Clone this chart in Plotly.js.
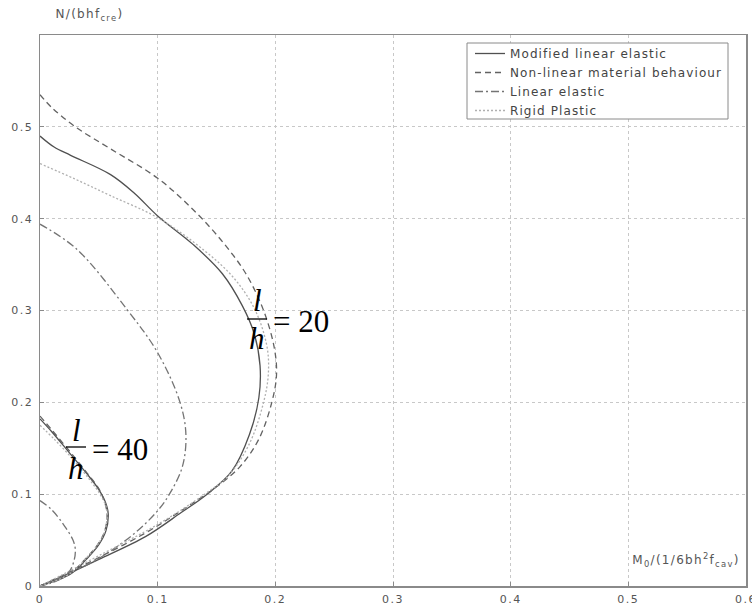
<!DOCTYPE html>
<html>
<head>
<meta charset="utf-8">
<script src="https://cdn.plot.ly/plotly-3.0.1.min.js"></script>
<style>
html,body{margin:0;padding:0;background:#fff;}
#chart{width:752px;height:611px;}
.legendtext{letter-spacing:1.1px;}
#chart .xtick text, #chart .ytick text{letter-spacing:1.5px;}
#chart .annotation[data-index="0"] text, #chart .annotation[data-index="1"] text{letter-spacing:1.3px;}
</style>
</head>
<body>
<div id="chart"></div>
<script>
// ---- Data (M0 normalised moment, N normalised axial force) ----
const seriesNames = ["Modified linear elastic", "Non-linear material behaviour", "Linear elastic", "Rigid Plastic"];

// l/h = 20
const mod20_M = [0, 0.012, 0.026, 0.06, 0.08, 0.1, 0.13, 0.155, 0.172, 0.182, 0.187, 0.186, 0.178, 0.163, 0.142, 0.12, 0.09, 0.05, 0.02, 0];
const mod20_N = [0.49, 0.478, 0.469, 0.448, 0.428, 0.403, 0.372, 0.34, 0.305, 0.275, 0.24, 0.205, 0.165, 0.125, 0.1, 0.08, 0.054, 0.029, 0.011, 0];
const nl20_M = [0, 0.01, 0.03, 0.06, 0.1, 0.13, 0.155, 0.175, 0.19, 0.199, 0.201, 0.197, 0.186, 0.17, 0.15, 0.12, 0.09, 0.05, 0.02, 0];
const nl20_N = [0.535, 0.521, 0.5, 0.476, 0.444, 0.41, 0.375, 0.34, 0.3, 0.26, 0.23, 0.2, 0.16, 0.13, 0.108, 0.082, 0.058, 0.031, 0.012, 0];
const le20_M = [0, 0.031, 0.074, 0.1, 0.119, 0.124, 0.121, 0.11, 0.1, 0.08, 0.05, 0.02, 0];
const le20_N = [0.394, 0.367, 0.301, 0.254, 0.2, 0.165, 0.13, 0.1, 0.082, 0.057, 0.03, 0.011, 0];
const rp20_M = [0, 0.03, 0.06, 0.1, 0.14, 0.165, 0.183, 0.193, 0.194, 0.19, 0.178, 0.16, 0.14, 0.1, 0.05, 0.02, 0];
const rp20_N = [0.46, 0.443, 0.425, 0.401, 0.365, 0.335, 0.3, 0.26, 0.23, 0.2, 0.155, 0.12, 0.1, 0.067, 0.033, 0.013, 0];

// l/h = 40
const mod40_M = [0, 0.01, 0.025, 0.04, 0.05, 0.056, 0.058, 0.056, 0.05, 0.04, 0.027, 0.012, 0];
const mod40_N = [0.182, 0.168, 0.145, 0.122, 0.105, 0.09, 0.078, 0.06, 0.045, 0.03, 0.014, 0.005, 0];
const nl40_M = [0, 0.01, 0.025, 0.04, 0.05, 0.055, 0.057, 0.055, 0.049, 0.039, 0.026, 0.012, 0];
const nl40_N = [0.185, 0.17, 0.147, 0.123, 0.106, 0.091, 0.078, 0.06, 0.045, 0.03, 0.014, 0.005, 0];
const le40_M = [0, 0.01, 0.021, 0.028, 0.03, 0.029, 0.025, 0.015, 0];
const le40_N = [0.093, 0.083, 0.065, 0.05, 0.04, 0.028, 0.016, 0.006, 0];
const rp40_M = [0, 0.012, 0.028, 0.042, 0.051, 0.056, 0.057, 0.055, 0.049, 0.039, 0.026, 0.012, 0];
const rp40_N = [0.175, 0.16, 0.138, 0.116, 0.1, 0.087, 0.076, 0.06, 0.045, 0.03, 0.014, 0.005, 0];

const xTicks = [0, 0.1, 0.2, 0.3, 0.4, 0.5, 0.6];
const xTickText = ["0", "0.1", "0.2", "0.3", "0.4", "0.5", "0.6"];
const yTicks = [0, 0.1, 0.2, 0.3, 0.4, 0.5];
const yTickText = ["0", "0.1", "0.2", "0.3", "0.4", "0.5"];

// ---- Styles ----
const styles = [
  {color: "#505050", dash: "solid", width: 1.3},
  {color: "#626262", dash: "6px,4px", width: 1.3},
  {color: "#747474", dash: "8px,3px,2px,3px", width: 1.3},
  {color: "#b0b0b0", dash: "2px,2px", width: 1.3}
];

function tr(M, N, i, show) {
  return {
    x: M, y: N, type: "scatter", mode: "lines",
    name: seriesNames[i], legendgroup: "g" + i, showlegend: show,
    line: {color: styles[i].color, dash: styles[i].dash, width: styles[i].width, shape: "spline", smoothing: 1},
    hoverinfo: "skip"
  };
}

const data = [
  tr(mod20_M, mod20_N, 0, true),
  tr(nl20_M, nl20_N, 1, true),
  tr(le20_M, le20_N, 2, true),
  tr(rp20_M, rp20_N, 3, true),
  tr(mod40_M, mod40_N, 0, false),
  tr(nl40_M, nl40_N, 1, false),
  tr(le40_M, le40_N, 2, false),
  tr(rp40_M, rp40_N, 3, false)
];

// plot area in pixels: left 40, right 746, top 35, bottom 586
const PL = 40, PR = 746, PT = 35, PB = 586;
const px = x => (x - PL) / (PR - PL);
const py = y => (PB - y) / (PB - PT);

const serif = {family: "Liberation Serif, Times New Roman, serif", size: 31, color: "#000"};
const small = {family: "DejaVu Sans, Arial, sans-serif", size: 11, color: "#555"};
const label = {family: "DejaVu Sans, Arial, sans-serif", size: 12, color: "#555"};

const annotations = [
  {xref: "paper", yref: "paper", x: px(89), y: py(15), xanchor: "center", yanchor: "middle", showarrow: false,
   text: "N/(bhf<sub>cre</sub>)", font: label},
  {xref: "paper", yref: "paper", x: px(686), y: py(560), xanchor: "center", yanchor: "middle", showarrow: false,
   text: "M<sub>0</sub>/(1/6bh<sup>2</sup>f<sub>cav</sub>)", font: label},
  // l/h = 20
  {xref: "paper", yref: "paper", x: px(257), y: py(300), xanchor: "center", yanchor: "middle", showarrow: false, text: "<i>l</i>", font: serif},
  {xref: "paper", yref: "paper", x: px(257), y: py(338), xanchor: "center", yanchor: "middle", showarrow: false, text: "<i>h</i>", font: serif},
  {xref: "paper", yref: "paper", x: px(271), y: py(321), xanchor: "left", yanchor: "middle", showarrow: false, text: "= 20", font: serif},
  // l/h = 40
  {xref: "paper", yref: "paper", x: px(76), y: py(430), xanchor: "center", yanchor: "middle", showarrow: false, text: "<i>l</i>", font: serif},
  {xref: "paper", yref: "paper", x: px(76), y: py(468), xanchor: "center", yanchor: "middle", showarrow: false, text: "<i>h</i>", font: serif},
  {xref: "paper", yref: "paper", x: px(90), y: py(449), xanchor: "left", yanchor: "middle", showarrow: false, text: "= 40", font: serif}
];

const shapes = [
  {type: "line", xref: "paper", yref: "paper", x0: px(247), x1: px(267), y0: py(319), y1: py(319), line: {color: "#000", width: 1.3}},
  {type: "line", xref: "paper", yref: "paper", x0: px(66), x1: px(86), y0: py(447), y1: py(447), line: {color: "#000", width: 1.3}},
  // legend frame
  {type: "rect", xref: "paper", yref: "paper", x0: px(467), x1: px(728), y0: py(43), y1: py(119),
   line: {color: "#8a8a8a", width: 1}, fillcolor: "#fff", layer: "above"}
];

const axisCommon = {
  showline: true, mirror: true, linecolor: "#8a8a8a", linewidth: 1.5,
  ticks: "inside", ticklen: 4, tickcolor: "#8a8a8a",
  showgrid: true, gridcolor: "#c8c8c8", griddash: "3px,3px", gridwidth: 1,
  zeroline: false, tickfont: small, ticklabeloverflow: "allow"
};

const layout = {
  width: 752, height: 611,
  margin: {l: PL, r: 752 - PR, t: PT, b: 611 - PB, pad: 0},
  paper_bgcolor: "#fff", plot_bgcolor: "#fff",
  xaxis: Object.assign({}, axisCommon, {range: [0, 0.6], tickvals: xTicks, ticktext: xTickText, ticklabelstandoff: 2}),
  yaxis: Object.assign({}, axisCommon, {range: [0, 0.6], tickvals: yTicks, ticktext: yTickText, ticklabelstandoff: 3}),
  showlegend: true,
  legend: {
    x: px(470), y: py(39), xanchor: "left", yanchor: "top",
    bgcolor: "rgba(0,0,0,0)", borderwidth: 0,
    font: {family: "DejaVu Sans, Arial, sans-serif", size: 12, color: "#444"},
    tracegroupgap: 0, itemwidth: 30
  },
  annotations: annotations,
  shapes: shapes
};

Plotly.newPlot("chart", data, layout, {displayModeBar: false, staticPlot: true});
</script>
</body>
</html>
